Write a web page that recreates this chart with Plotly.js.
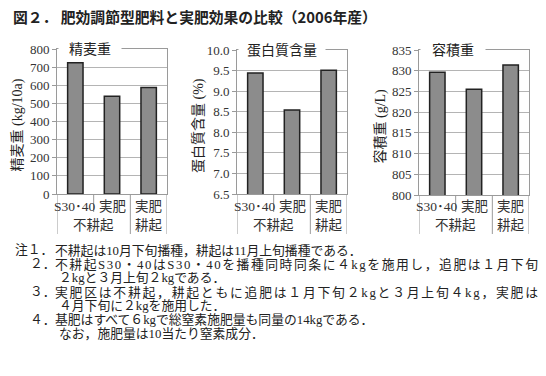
<!DOCTYPE html>
<html><head><meta charset="utf-8">
<script src="https://cdn.plot.ly/plotly-3.0.1.min.js"></script>
<style>html,body{margin:0;padding:0;background:#fff}#chart{width:546px;height:376px}</style>
</head><body><div id="chart"></div>
<script>
// ---- data ----
const categories = ["S30･40", "実肥", "実肥"];
const groups = ["不耕起", "耕起"];
const groupCenters = [0.5, 2];
const grainWeight = [724, 539, 588];      // 精麦重 kg/10a
const protein = [9.44, 8.54, 9.51];       // 蛋白質含量 %
const testWeight = [829.6, 825.5, 831.4]; // 容積重 g/L
const panelTitles = ["精麦重", "蛋白質含量", "容積重"];
const axisTitles = ["精麦重 (kg/10a)", "蛋白質含量 (%)", "容積重 (g/L)"];
const chartTitle = "図２． 肥効調節型肥料と実肥効果の比較（2006年産）";
const noteLabels = ["注１．", "２．", "", "３．", "", "４．", ""];
const noteLines = [
  "不耕起は10月下旬播種，耕起は11月上旬播種である．",
  "不耕起S30・40はS30・40を播種同時同条に４kgを施用し，追肥は１月下旬",
  "２kgと３月上旬２kgである．",
  "実肥区は不耕起，耕起ともに追肥は１月下旬２kgと３月上旬４kg，実肥は",
  "４月下旬に２kgを施用した．",
  "基肥はすべて６kgで総窒素施肥量も同量の14kgである．",
  "なお，施肥量は10当たり窒素成分．"
];
const justifiedNotes = [1, 3];

// ---- layout helpers ----
const W = 546, H = 376;
const fx = p => p / W, fy = p => 1 - p / H;
const FONT = "Liberation Serif, Noto Sans CJK JP, serif";
const CJK = "Noto Sans CJK JP, sans-serif";
const series = [grainWeight, protein, testWeight];
const panels = [
  {x0: 57, x1: 167, yTop: 49, yBot: 194, range: [0, 800], dtick: 100, fmt: "d", tw: 60},
  {x0: 237, x1: 347, yTop: 50, yBot: 194, range: [6.5, 10], dtick: 0.5, fmt: ".1f", tw: 84},
  {x0: 419, x1: 529, yTop: 50, yBot: 195, range: [800, 835], dtick: 5, fmt: "d", tw: 62}
];
const idx = categories.map((_, i) => i);
const traces = [], shapes = [], annotations = [];
const layout = {
  width: W, height: H, margin: {l: 0, r: 0, t: 0, b: 0},
  paper_bgcolor: "#fff", plot_bgcolor: "#fff", showlegend: false,
  title: {text: chartTitle, x: fx(13), xanchor: "left", xref: "paper", y: fy(18), yanchor: "middle", yref: "paper",
          font: {family: CJK, size: 14.8, color: "#222", weight: "bold"}},
  font: {family: FONT, color: "#222"}
};
const lineColor = "#9a9a9a";
panels.forEach((p, k) => {
  const n = k === 0 ? "" : String(k + 1);
  const xa = "x" + n, ya = "y" + n;
  traces.push({type: "bar", x: idx, y: series[k], xaxis: xa, yaxis: ya, width: 0.42,
    marker: {color: "#8c8c8c", line: {color: "#222", width: 1.5}}, hoverinfo: "skip"});
  layout["xaxis" + n] = {domain: [fx(p.x0), fx(p.x1)], range: [-0.5, 2.5], anchor: ya,
    showticklabels: false, ticks: "", showgrid: false, zeroline: false,
    showline: true, mirror: true, linecolor: lineColor, linewidth: 1, fixedrange: true};
  layout["yaxis" + n] = {domain: [fy(p.yBot), fy(p.yTop)], range: p.range, dtick: p.dtick, tick0: p.range[0],
    tickformat: p.fmt, anchor: xa, ticks: "outside", ticklen: 4, tickcolor: lineColor,
    showgrid: true, gridcolor: "#b4b4b4", gridwidth: 1, zeroline: false,
    showline: true, mirror: true, linecolor: lineColor, linewidth: 1,
    tickfont: {family: FONT, size: 13, color: "#333"}, fixedrange: true};
  // category divider lines
  [[-0.5, 234], [0.5, 212], [1.5, 234], [2.5, 234]].forEach(([xv, yb]) => {
    shapes.push({type: "line", xref: xa, yref: "paper", x0: xv, x1: xv, y0: fy(p.yBot), y1: fy(yb),
      line: {color: lineColor, width: 1}});
  });
  categories.forEach((c, i) => annotations.push({xref: xa, yref: "paper", x: i, y: fy(207), text: c,
    showarrow: false, xanchor: "center", yanchor: "middle", font: {family: FONT, size: 13.5, color: "#333"}}));
  groups.forEach((g, i) => annotations.push({xref: xa, yref: "paper", x: groupCenters[i], y: fy(225), text: g,
    showarrow: false, xanchor: "center", yanchor: "middle", font: {family: FONT, size: 13.5, color: "#333"}}));
  // panel title on top frame line
  annotations.push({xref: "paper", yref: "paper", x: fx(p.x0 + 1), y: fy(p.yTop), text: panelTitles[k],
    showarrow: false, xanchor: "left", yanchor: "middle", width: p.tw, align: "center", bgcolor: "#fff",
    font: {family: FONT, size: 14, color: "#222"}});
  // axis title (vertical)
  annotations.push({xref: "paper", yref: "paper", x: fx(p.x0 - 39), y: fy((p.yTop + p.yBot) / 2 + 4), text: axisTitles[k],
    showarrow: false, textangle: -90, xanchor: "center", yanchor: "middle",
    font: {family: FONT, size: 14, color: "#222"}});
});
// notes
const noteY0 = 250, noteDy = 14, noteBodyX = 53, noteRight = 536;
const justifyIdx = [];
noteLines.forEach((t, i) => {
  const y = fy(noteY0 + i * noteDy);
  const lab = noteLabels[i];
  if (lab) annotations.push({xref: "paper", yref: "paper", x: fx(i === 0 ? 13 : 28), y, text: lab, showarrow: false,
    xanchor: "left", yanchor: "middle", font: {family: FONT, size: 12.8, color: "#222"}});
  if (justifiedNotes.includes(i)) justifyIdx.push(annotations.length);
  annotations.push({xref: "paper", yref: "paper", x: fx(lab ? noteBodyX : noteBodyX + 4), y, text: t, showarrow: false,
    xanchor: "left", yanchor: "middle", align: "left", font: {family: FONT, size: 12.8, color: "#222"}});
});
layout.shapes = shapes;
layout.annotations = annotations;
Plotly.newPlot("chart", traces, layout, {staticPlot: true, displayModeBar: false}).then(gd => {
  justifyIdx.forEach(k => {
    const el = gd.querySelector('.annotation[data-index="' + k + '"] text');
    if (!el) return;
    const len = el.getComputedTextLength();
    const target = noteRight - noteBodyX;
    const nch = el.textContent.length;
    if (len < target && nch > 1) el.setAttribute("letter-spacing", ((target - len) / (nch - 1)).toFixed(3));
  });
});
</script></body></html>
